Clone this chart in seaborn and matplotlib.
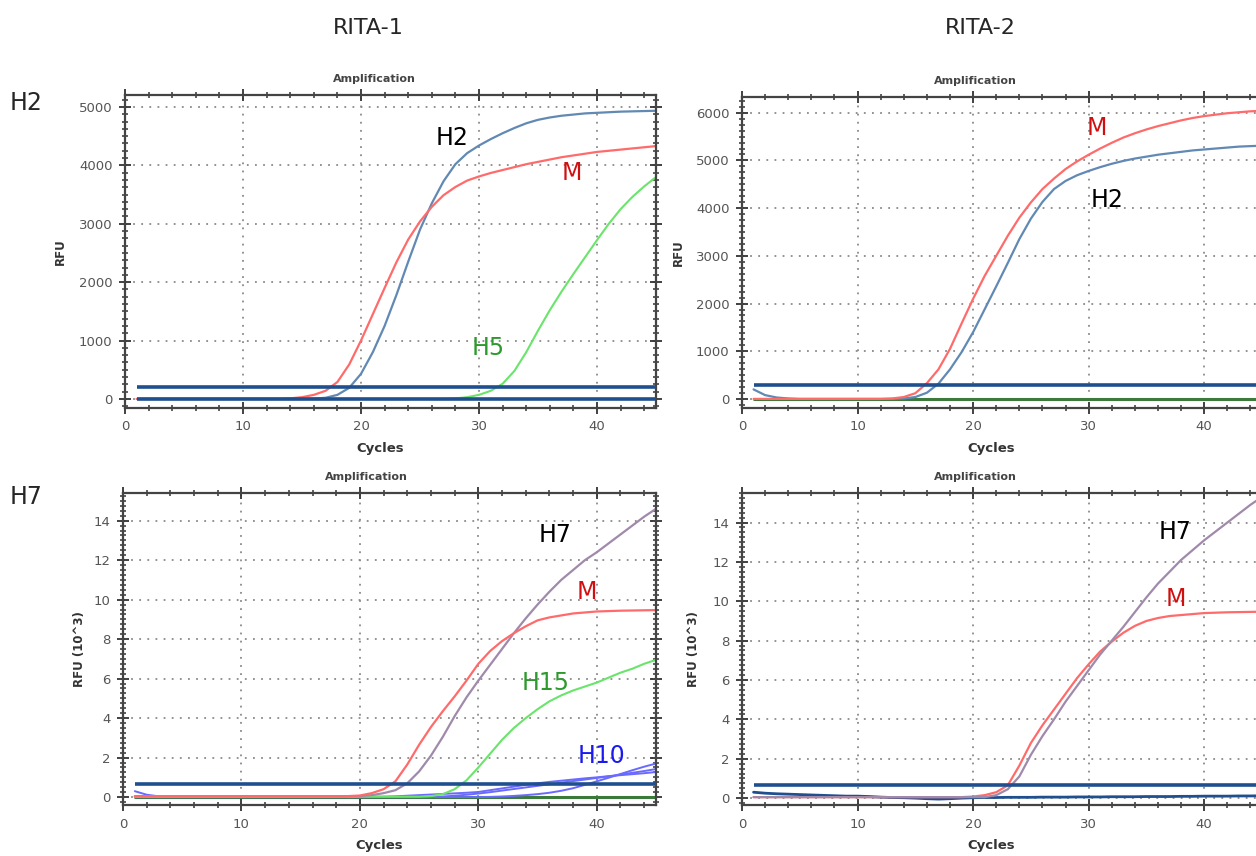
import numpy as np
import pandas as pd
import matplotlib
matplotlib.use("Agg")
import matplotlib.pyplot as plt
from matplotlib.ticker import MultipleLocator, AutoMinorLocator
import seaborn as sns

sns.set_style("ticks")
plt.rcParams['font.family'] = ['DejaVu Sans']

cycles = list(range(1, 46))

# RITA-1 / H2 row (RFU)
tl_m = [0, 0, 0, 0, 0, 0, 0, 0, 0, 0, 0, 0, 0,
        10, 30, 70, 140, 290, 590, 1000, 1450, 1900, 2340,
        2730, 3040, 3290, 3490, 3630, 3740, 3810, 3870, 3920, 3970,
        4020, 4060, 4100, 4140, 4170, 4200, 4230, 4250, 4270, 4290,
        4310, 4330]
tl_h2 = [0, 0, 0, 0, 0, 0, 0, 0, 0, 0, 0, 0, 0, 0, 0,
         5, 20, 70, 190, 430, 800, 1250, 1780, 2350, 2900,
         3350, 3730, 4020, 4210, 4340, 4450, 4550, 4640, 4720, 4780,
         4820, 4850, 4870, 4890, 4900, 4910, 4920, 4925, 4930, 4935]
tl_h5 = [0, 0, 0, 0, 0, 0, 0, 0, 0, 0, 0, 0, 0, 0, 0, 0, 0, 0, 0, 0,
         0, 0, 0, 0, 0, 0, 0,
         10, 30, 70, 140, 260, 480, 800, 1170, 1520, 1840,
         2140, 2430, 2720, 3000, 3250, 3460, 3640, 3800]

# RITA-2 / H2 row (RFU)
tr_m = [0, 0, 0, 0, 0, 0, 0, 0, 0, 0, 0, 0,
        10, 40, 120, 330, 620, 1050, 1580, 2100,
        2580, 3000, 3420, 3800, 4120, 4400, 4620, 4820, 4980, 5120,
        5250, 5370, 5480, 5570, 5650, 5720, 5780, 5840, 5890, 5930,
        5960, 5990, 6010, 6030, 6040]
tr_h2 = [200, 80, 30, 10, 0, 0, 0, 0, 0, 0, 0, 0, 0,
         10, 40, 130, 320, 620, 980, 1400,
         1880, 2360, 2850, 3350, 3780, 4130, 4400, 4570, 4690, 4780,
         4860, 4930, 4990, 5040, 5080, 5120, 5150, 5180, 5210, 5230,
         5250, 5270, 5290, 5300, 5310]
tr_neg = [0] * 45

# RITA-1 / H7 row (RFU x 10^3)
bl_m = [0.05] * 19 + [0.08, 0.2, 0.4, 0.8, 1.65, 2.65, 3.55, 4.35, 5.1, 5.9,
                      6.75, 7.4, 7.9, 8.3, 8.65, 8.95, 9.1, 9.2, 9.3, 9.35,
                      9.4, 9.42, 9.44, 9.45, 9.46, 9.47]
bl_h7 = [0.05] * 20 + [0.1, 0.2, 0.35, 0.7, 1.3, 2.1, 3.05, 4.1, 5.05,
                       5.9, 6.7, 7.5, 8.3, 9.05, 9.75, 10.4, 11.0, 11.5, 12.0,
                       12.4, 12.85, 13.3, 13.75, 14.2, 14.6]
bl_h15 = [0.02] * 25 + [0.05, 0.15, 0.4, 0.85, 1.5, 2.2, 2.9, 3.5, 4.0, 4.45,
                        4.85, 5.15, 5.4, 5.6, 5.8, 6.05, 6.3, 6.5, 6.75, 6.95]
bl_h10a = [0.3, 0.12, 0.04] + [0.02] * 19 + [0.04, 0.07, 0.1, 0.13, 0.16, 0.19, 0.22,
                                            0.26, 0.35, 0.44, 0.53, 0.62, 0.7, 0.77, 0.83, 0.89, 0.95,
                                            1.0, 1.06, 1.11, 1.16, 1.21, 1.27]
bl_h10b = [0.0] * 30 + [0.01, 0.03, 0.06, 0.1, 0.15, 0.22, 0.32, 0.45, 0.62, 0.8,
                        0.98, 1.17, 1.36, 1.54, 1.7]
bl_h10c = [0.0] * 26 + [0.03, 0.07, 0.12, 0.18, 0.25, 0.33, 0.41, 0.49, 0.57, 0.65,
                        0.73, 0.81, 0.89, 0.97, 1.05, 1.14, 1.23, 1.32, 1.42]
bl_neg = [0.0] * 45

# RITA-2 / H7 row (RFU x 10^3)
br_m = [0.05] * 19 + [0.08, 0.15, 0.3, 0.65, 1.65, 2.8, 3.7, 4.5, 5.3, 6.1,
                      6.8, 7.45, 7.95, 8.4, 8.75, 9.0, 9.15, 9.25, 9.3, 9.35,
                      9.4, 9.42, 9.44, 9.45, 9.46, 9.47]
br_h7 = [0.05] * 21 + [0.15, 0.45, 1.1, 2.2, 3.15, 4.0, 4.9, 5.7,
                       6.5, 7.3, 8.0, 8.7, 9.45, 10.2, 10.9, 11.5, 12.1, 12.6,
                       13.1, 13.55, 14.0, 14.45, 14.9, 15.3]
br_noise = [0.3, 0.25, 0.22, 0.2, 0.18, 0.16, 0.14, 0.12, 0.1, 0.1,
            0.08, 0.05, 0.03, 0.02, 0.0, -0.03, -0.05, -0.03, 0.0, 0.02,
            0.03, 0.03, 0.04, 0.04, 0.04, 0.05, 0.05, 0.05, 0.06, 0.06,
            0.06, 0.07, 0.07, 0.07, 0.08, 0.08, 0.08, 0.09, 0.09, 0.1,
            0.1, 0.1, 0.11, 0.11, 0.12]

thresholds = {'tl': [200, 0], 'tr': [300], 'bl': [0.65], 'br': [0.65]}

RED = '#ff6b6b'
BLUE = '#6189b3'
GREEN = '#6ae46a'
PURPLE = '#a08aab'
H10BLUE = '#6a6aff'
NAVY = '#1f4f8f'
DKGREEN = '#3b7a3b'


def draw_panel(ax, curves, thr, ylim, ymajor, ylabel, notes, ylab_x, title_x):
    for vals, col, lw in curves:
        df = pd.DataFrame({'cycle': cycles, 'rfu': vals})
        sns.lineplot(data=df, x='cycle', y='rfu', color=col, linewidth=lw, ax=ax, zorder=2)
    for t in thr:
        ax.hlines(t, 1, 45, color=NAVY, linewidth=2.6, zorder=3)
    ax.set_xlim(0, 45)
    ax.set_ylim(*ylim)
    ax.xaxis.set_major_locator(MultipleLocator(10))
    ax.xaxis.set_minor_locator(AutoMinorLocator(5))
    ax.yaxis.set_major_locator(MultipleLocator(ymajor))
    ax.yaxis.set_minor_locator(AutoMinorLocator(8))
    ax.tick_params(which='major', direction='inout', length=8, width=1.3, top=True, right=True,
                   color='#333333', labelcolor='#555555', labelsize=9.5, pad=5)
    ax.tick_params(which='minor', direction='inout', length=5, width=1.1, top=True, right=True,
                   color='#333333')
    ax.grid(True, which='major', linestyle=(0, (1, 3.5)), color='#8a8a8a', linewidth=1.3)
    for s in ax.spines.values():
        s.set_color('#444444')
        s.set_linewidth(1.6)
    ax.set_xlabel('Cycles', fontsize=9.5, fontweight='bold', color='#333333')
    ax.xaxis.set_label_coords(0.48, -0.11)
    ax.set_ylabel(ylabel, fontsize=8.5, fontweight='bold', color='#333333')
    ax.yaxis.set_label_coords(ylab_x, 0.5)
    ax.text(title_x, 1.05, 'Amplification', transform=ax.transAxes, ha='center', va='center',
            fontsize=8, fontweight='bold', color='#444444')
    for x, y, s, c in notes:
        ax.text(x, y, s, color=c, fontsize=17, ha='center', va='center', zorder=4)


fig = plt.figure(figsize=(12.56, 8.56), dpi=100)
ax_tl = fig.add_axes([125 / 1256, 1 - 408 / 856, 531 / 1256, 313 / 856])
ax_tr = fig.add_axes([742 / 1256, 1 - 408 / 856, 520 / 1256, 311 / 856])
ax_bl = fig.add_axes([123 / 1256, 1 - 805 / 856, 533 / 1256, 312 / 856])
ax_br = fig.add_axes([742 / 1256, 1 - 805 / 856, 520 / 1256, 312 / 856])

draw_panel(ax_tl, [(tl_h5, GREEN, 1.5), (tl_h2, BLUE, 1.6), (tl_m, RED, 1.6)],
           thresholds['tl'], (-155, 5205), 1000, 'RFU',
           [(27.7, 4470, 'H2', 'black'), (37.9, 3870, 'M', '#d01010'), (30.8, 873, 'H5', '#2e9a2e')],
           -0.11, 0.469)
draw_panel(ax_tr, [(tr_neg, DKGREEN, 2.2), (tr_h2, BLUE, 1.6), (tr_m, RED, 1.6)],
           thresholds['tr'], (-190, 6330), 1000, 'RFU',
           [(30.7, 5680, 'M', '#d01010'), (31.6, 4170, 'H2', 'black')],
           -0.11, 0.448)
draw_panel(ax_bl, [(bl_neg, DKGREEN, 2.2), (bl_h10a, H10BLUE, 1.4), (bl_h10b, H10BLUE, 1.4),
                   (bl_h10c, H10BLUE, 1.4), (bl_h15, GREEN, 1.5), (bl_h7, PURPLE, 1.6), (bl_m, RED, 1.6)],
           thresholds['bl'], (-0.4, 15.4), 2, 'RFU (10^3)',
           [(36.5, 13.25, 'H7', 'black'), (39.2, 10.4, 'M', '#d01010'),
            (35.7, 5.8, 'H15', '#2e9a2e'), (40.4, 2.1, 'H10', '#1a1aee')],
           -0.07, 0.456)
draw_panel(ax_br, [(br_noise, NAVY, 2.0), (br_m, RED, 1.6), (br_h7, PURPLE, 1.6)],
           thresholds['br'], (-0.35, 15.5), 2, 'RFU (10^3)',
           [(37.5, 13.5, 'H7', 'black'), (37.5, 10.1, 'M', '#d01010')],
           -0.08, 0.448)

fig.text(368 / 1256, 1 - 28 / 856, 'RITA-1', fontsize=16, ha='center', va='center')
fig.text(980 / 1256, 1 - 28 / 856, 'RITA-2', fontsize=16, ha='center', va='center')
fig.text(10 / 1256, 1 - 103 / 856, 'H2', fontsize=17, ha='left', va='center')
fig.text(10 / 1256, 1 - 497 / 856, 'H7', fontsize=17, ha='left', va='center')

fig.savefig('out.png', dpi=100)
